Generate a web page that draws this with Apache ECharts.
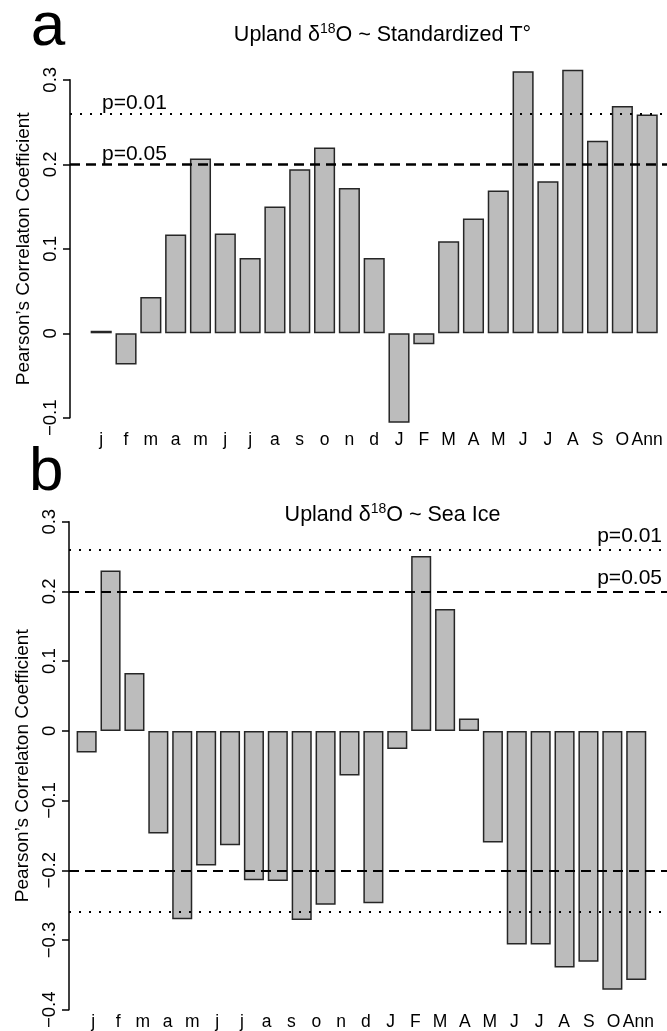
<!DOCTYPE html>
<html>
<head>
<meta charset="utf-8">
<script src="https://cdn.jsdelivr.net/npm/echarts@6/dist/echarts.min.js"></script>
<style>
html, body { margin: 0; padding: 0; background: #fff; }
#chart { width: 667px; height: 1031px; }
</style>
</head>
<body>
<div id="chart"></div>
<script>
// month labels shared by both panels (lower case = previous year)
var monthLabels = ['j', 'f', 'm', 'a', 'm', 'j', 'j', 'a', 's', 'o', 'n', 'd',
  'J', 'F', 'M', 'A', 'M', 'J', 'J', 'A', 'S', 'O', 'Ann'];

// panel a: upland d18O vs standardized temperature
var tempCorr = [0.003, -0.037, 0.043, 0.117, 0.207, 0.118, 0.089, 0.150, 0.194, 0.220, 0.172, 0.089,
  -0.106, -0.013, 0.109, 0.136, 0.169, 0.310, 0.180, 0.312, 0.228, 0.269, 0.259];

// panel b: upland d18O vs sea ice (24 bars drawn)
var iceCorr = [-0.031, 0.230, 0.083, -0.147, -0.270, -0.193, -0.164, -0.214, -0.215, -0.271, -0.249, -0.064, -0.247,
  -0.026, 0.251, 0.175, 0.018, -0.160, -0.306, -0.306, -0.339, -0.331, -0.371, -0.357];

// significance thresholds
var pNames = ['p=0.05', 'p=0.01'];
var pValues = [0.198, 0.256];

var yRangeA = [-0.1, 0.3];
var yRangeB = [-0.4, 0.3];
var yStep = 0.1;

var FONT = "'Liberation Sans', Arial, Helvetica, sans-serif";

var chart = echarts.init(document.getElementById('chart'), null, { renderer: 'canvas' });

function tickFmt(v) {
  var s = String(+v.toFixed(1));
  return s.replace('-', '\u2212');
}

function yAxisShown(grid, range) {
  return {
    type: 'value', gridIndex: grid, min: range[0], max: range[1], interval: yStep,
    axisLine: { show: true, lineStyle: { color: '#000', width: 1.5 } },
    axisTick: { show: true, length: 7, lineStyle: { color: '#000', width: 1.5 } },
    splitLine: { show: false },
    axisLabel: { rotate: 90, margin: 10, color: '#000', fontSize: 18.5, fontFamily: FONT, formatter: tickFmt },
    name: 'Pearson\u2019s Correlaton Coefficient',
    nameLocation: 'middle', nameRotate: 90, nameGap: 36,
    nameTextStyle: { color: '#000', fontSize: 19, fontFamily: FONT }
  };
}

function yAxisHidden(grid, range) {
  return { type: 'value', gridIndex: grid, min: range[0], max: range[1], show: false };
}

function catAxis(grid, data, showLabel, margin) {
  return {
    type: 'category', gridIndex: grid, data: data,
    axisLine: { show: false, onZero: false },
    axisTick: { show: false },
    axisLabel: { show: showLabel, interval: 0, margin: margin, color: '#000', fontSize: 17.5, fontFamily: FONT }
  };
}

function lineDef(v, kind, width, labelText, labelPos, labelDist) {
  var item = {
    yAxis: v,
    lineStyle: { color: '#000', width: width, type: kind === 'dot' ? [2, 8] : [10, 6] },
    label: { show: false }
  };
  if (labelText) {
    item.label = {
      show: true, formatter: labelText, position: labelPos, distance: labelDist,
      color: '#000', fontSize: 21, fontFamily: FONT
    };
  }
  return item;
}

var barStyle = { color: '#bcbcbc', borderColor: '#262626', borderWidth: 1.5 };

var titleRich = {
  t: { fontSize: 21.5, fontFamily: FONT, lineHeight: 26, fill: '#000' },
  s: { fontSize: 14, fontFamily: FONT, lineHeight: 20, verticalAlign: 'top', fill: '#000' }
};

var option = {
  animation: false,
  backgroundColor: '#fff',
  grid: [
    { left: 88.8, right: 7.4, top: 79.8, bottom: 613.2 },
    { left: 70, right: 0, top: 79.8, bottom: 613.2 },
    { left: 74.7, right: 18.8, top: 521.7, bottom: 21 },
    { left: 69, right: 0, top: 521.7, bottom: 21 },
    { left: 80.9, right: 16.3, top: 521.7, bottom: 21 }
  ],
  xAxis: [
    catAxis(0, monthLabels, true, 13),
    { type: 'value', gridIndex: 1, min: 0, max: 1, show: false },
    catAxis(2, iceCorr.map(function (d, i) { return i; }), false, 4),
    { type: 'value', gridIndex: 3, min: 0, max: 1, show: false },
    catAxis(4, monthLabels, true, 3)
  ],
  yAxis: [
    yAxisHidden(0, yRangeA),
    yAxisShown(1, yRangeA),
    yAxisHidden(2, yRangeB),
    yAxisShown(3, yRangeB),
    yAxisHidden(4, yRangeB)
  ],
  series: [
    {
      type: 'bar', xAxisIndex: 0, yAxisIndex: 0, data: tempCorr, clip: false,
      barCategoryGap: '15%', itemStyle: barStyle, silent: true, z: 2
    },
    {
      type: 'line', xAxisIndex: 1, yAxisIndex: 1, data: [], z: 5,
      markLine: {
        silent: true, symbol: 'none', animation: false,
        data: [
          lineDef(pValues[0], 'dash', 2.5, pNames[0], 'insideStartTop', [32, 0]),
          lineDef(pValues[1], 'dot', 2.2, pNames[1], 'insideStartTop', [32, 0])
        ]
      }
    },
    {
      type: 'bar', xAxisIndex: 2, yAxisIndex: 2, data: iceCorr, clip: false,
      barCategoryGap: '16%', itemStyle: barStyle, silent: true, z: 2
    },
    {
      type: 'line', xAxisIndex: 3, yAxisIndex: 3, data: [], z: 5,
      markLine: {
        silent: true, symbol: 'none', animation: false,
        data: [
          lineDef(pValues[0], 'dash', 2, pNames[0], 'insideEndTop', [5, 3]),
          lineDef(pValues[1], 'dot', 2, pNames[1], 'insideEndTop', [5, 3]),
          lineDef(-pValues[0], 'dash', 2),
          lineDef(-pValues[1], 'dot', 2)
        ]
      }
    }
  ],
  graphic: [
    { type: 'text', x: 30.7, y: 27.5, style: { text: 'a', font: '62px ' + FONT, fill: '#000', textVerticalAlign: 'middle' } },
    { type: 'text', x: 29, y: 473, style: { text: 'b', font: '62px ' + FONT, fill: '#000', textVerticalAlign: 'middle' } },
    {
      type: 'text', x: 382.5, y: 35,
      style: {
        text: '{t|Upland \u03b4}{s|18}{t|O ~ Standardized T\u00b0}',
        textAlign: 'center', textVerticalAlign: 'middle', fill: '#000', rich: titleRich
      }
    },
    {
      type: 'text', x: 392.5, y: 515.5,
      style: {
        text: '{t|Upland \u03b4}{s|18}{t|O ~ Sea Ice}',
        textAlign: 'center', textVerticalAlign: 'middle', fill: '#000', rich: titleRich
      }
    }
  ]
};

chart.setOption(option);
</script>
</body>
</html>
